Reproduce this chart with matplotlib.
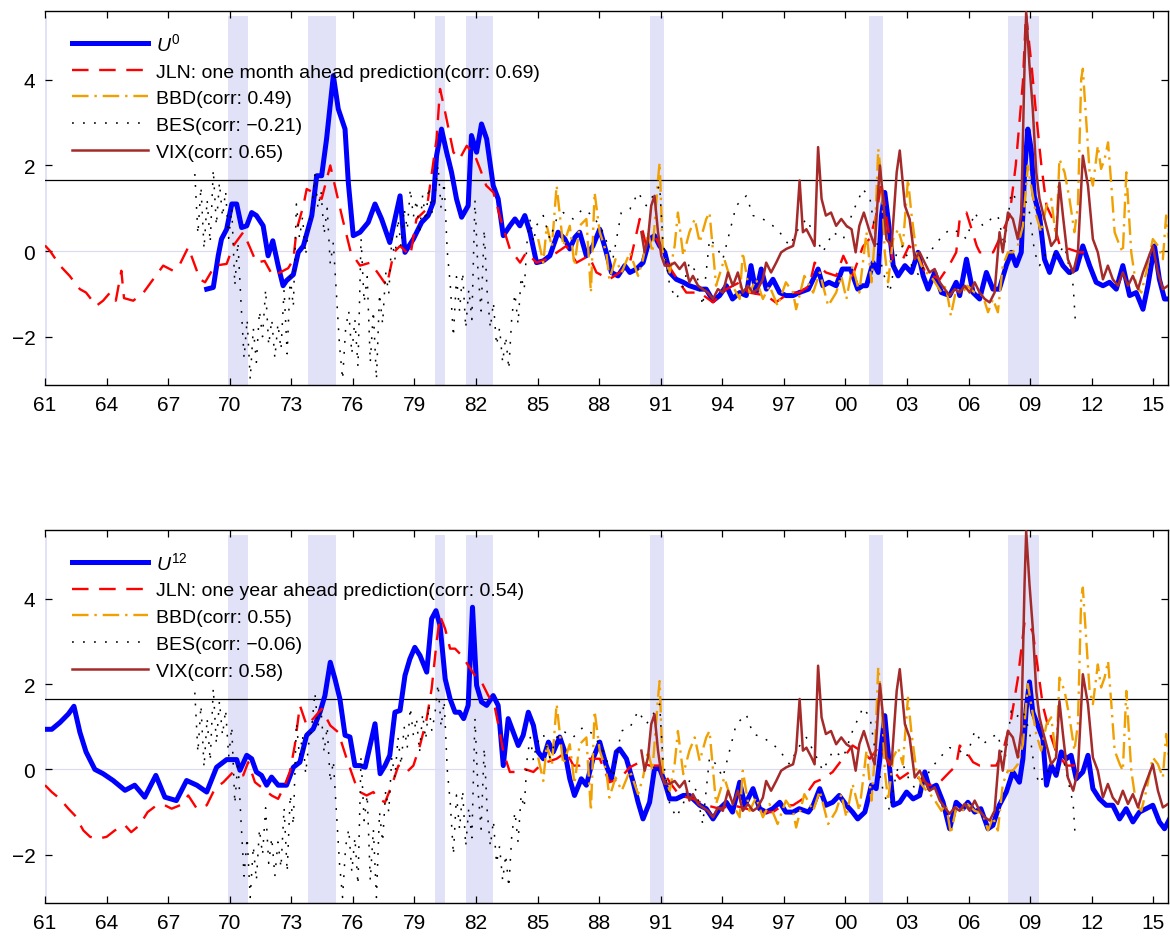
import matplotlib
matplotlib.use("Agg")
import matplotlib.pyplot as plt

plt.rcParams['font.family'] = ['Liberation Sans', 'DejaVu Sans']
plt.rcParams['mathtext.fontset'] = 'custom'
plt.rcParams['mathtext.it'] = 'Liberation Sans:italic'
plt.rcParams['mathtext.rm'] = 'Liberation Sans'

# NBER recessions
rec_start = [1960.25, 1969.92, 1973.83, 1980.0, 1981.5, 1990.5, 2001.17, 2007.92]
rec_end = [1961.12, 1970.87, 1975.17, 1980.5, 1982.83, 1991.17, 2001.83, 2009.42]

# U^0 (top)
u0_t = [1968.88, 1969.2, 1969.44, 1969.6, 1969.85, 1970.1, 1970.34, 1970.58, 1970.83, 1971.07,
        1971.3, 1971.63, 1971.87, 1972.1, 1972.36, 1972.6, 1972.77, 1973.1, 1973.34, 1973.59,
        1974.0, 1974.24, 1974.48, 1974.72, 1975.05, 1975.29, 1975.62, 1975.78, 1976.02, 1976.35,
        1976.75, 1977.08, 1977.4, 1977.8, 1978.05, 1978.3, 1978.54, 1978.95, 1979.35, 1979.67,
        1979.92, 1980.08, 1980.32, 1980.57, 1980.81, 1981.05, 1981.3, 1981.62, 1981.78, 1982.03,
        1982.27, 1982.52, 1982.84, 1983.08, 1983.33, 1983.65, 1983.9, 1984.14, 1984.38, 1984.63,
        1984.95, 1985.28, 1985.6, 1986.0, 1986.33, 1986.57, 1986.82, 1987.05, 1987.38, 1987.7,
        1988.03, 1988.35, 1988.6, 1988.92, 1989.25, 1989.5, 1989.82, 1990.14, 1990.46, 1990.7,
        1990.95, 1991.2, 1991.44, 1991.76, 1992.1, 1992.4, 1992.9, 1993.22, 1993.55, 1993.87,
        1994.2, 1994.5, 1994.85, 1995.17, 1995.4, 1995.65, 1995.9, 1996.15, 1996.47, 1996.8,
        1997.1, 1997.45, 1997.75, 1998.2, 1998.43, 1998.67, 1998.9, 1999.2, 1999.55, 1999.85,
        2000.25, 2000.6, 2000.84, 2001.03, 2001.35, 2001.6, 2001.76, 2001.92, 2002.08, 2002.33,
        2002.57, 2002.9, 2003.22, 2003.54, 2003.79, 2004.03, 2004.35, 2004.68, 2005.08, 2005.4,
        2005.57, 2005.9, 2006.22, 2006.54, 2006.87, 2007.19, 2007.5, 2007.84, 2008.08, 2008.32,
        2008.57, 2008.73, 2008.89, 2009.05, 2009.2, 2009.46, 2009.7, 2009.95, 2010.27, 2010.6,
        2010.9, 2011.25, 2011.57, 2011.9, 2012.22, 2012.55, 2012.87, 2013.2, 2013.52, 2013.85,
        2014.17, 2014.5, 2014.74, 2015.06, 2015.3, 2015.55, 2015.8]
u0_v = [-0.89, -0.85, -0.11, 0.28, 0.51, 1.1, 1.1, 0.55, 0.59, 0.9,
        0.83, 0.59, -0.11, 0.24, -0.34, -0.81, -0.69, -0.55, -0.03, 0.12,
        0.83, 1.76, 1.76, 2.62, 4.1, 3.32, 2.85, 1.6, 0.36, 0.44,
        0.67, 1.1, 0.75, 0.2, 0.75, 1.29, -0.03, 0.28, 0.67, 0.83,
        1.14, 2.23, 2.85, 2.31, 1.84, 1.22, 0.79, 1.06, 2.7, 2.31,
        2.97, 2.62, 1.53, 1.22, 0.36, 0.59, 0.75, 0.59, 0.83, 0.44,
        -0.27, -0.23, -0.11, 0.44, 0.28, 0.05, 0.32, 0.44, -0.11, 0.12,
        0.51, -0.03, -0.5, -0.58, -0.34, -0.5, -0.42, -0.27, 0.28, 0.36,
        0.12, -0.03, -0.5, -0.66, -0.73, -0.81, -0.89, -0.89, -1.16, -1.04,
        -0.81, -1.12, -0.97, -1.04, -0.34, -0.97, -0.42, -0.89, -0.66, -0.97,
        -1.04, -1.04, -0.97, -0.89, -0.66, -0.42, -0.81, -0.73, -0.81, -0.42,
        -0.42, -0.89, -0.81, -0.81, -0.27, -0.5, 0.83, 1.37, 0.75, -0.34,
        -0.58, -0.34, -0.5, -0.03, -0.58, -0.89, -0.5, -0.97, -1.04, -0.73,
        -1.04, -0.19, -0.97, -1.12, -0.5, -0.89, -0.89, -0.34, -0.03, -0.34,
        -0.03, 1.84, 2.85, 2.39, 1.29, 0.83, -0.19, -0.5, -0.03, -0.34,
        -0.5, -0.42, 0.12, -0.34, -0.73, -0.81, -0.73, -0.89, -0.34, -1.04,
        -0.97, -1.36, -0.81, 0.12, -0.66, -1.12, -1.12]

# JLN one month ahead (top)
jln1_t = [1961.0, 1961.25, 1961.73, 1962.2, 1962.7, 1963.0, 1963.5, 1963.83, 1964.17, 1964.45,
          1964.72, 1964.85, 1965.3, 1965.8, 1966.27, 1966.76, 1967.24, 1967.58, 1967.98, 1968.55,
          1968.8, 1969.28, 1969.85, 1970.17, 1970.66, 1970.98, 1971.3, 1971.7, 1972.1, 1972.45,
          1972.85, 1973.1, 1973.26, 1973.59, 1973.75, 1974.07, 1974.48, 1974.9, 1975.2, 1975.5,
          1975.9, 1976.35, 1976.85, 1977.2, 1977.65, 1978.0, 1978.3, 1978.8, 1979.1, 1979.6,
          1979.9, 1980.08, 1980.25, 1980.5, 1980.9, 1981.2, 1981.55, 1981.95, 1982.2, 1982.5,
          1982.85, 1983.2, 1983.65, 1984.15, 1984.45, 1984.95, 1985.45, 1985.95, 1986.4, 1986.9,
          1987.5, 1987.87, 1988.5, 1989.0, 1989.5, 1989.98, 1990.3, 1990.8, 1991.3, 1991.9,
          1992.25, 1992.9, 1993.55, 1994.2, 1994.85, 1995.3, 1996.15, 1996.6, 1997.3, 1997.75,
          1998.25, 1998.5, 1999.05, 1999.55, 1999.9, 2000.35, 2000.85, 2001.2, 2001.5, 2001.75,
          2002.3, 2002.8, 2003.1, 2003.46, 2003.9, 2004.6, 2005.05, 2005.4, 2005.57, 2005.9,
          2006.4, 2006.55, 2007.2, 2007.5, 2008.0, 2008.3, 2008.65, 2008.8, 2009.07, 2009.3,
          2009.55, 2009.8, 2010.1, 2010.45, 2010.9, 2011.4, 2011.9]
jln1_v = [0.13, 0.0, -0.34, -0.58, -0.89, -0.97, -1.28, -1.16, -0.97, -1.16,
          -0.46, -1.1, -1.16, -0.97, -0.66, -0.34, -0.46, -0.3, 0.09, -0.66,
          -0.73, -0.34, -0.3, 0.12, 0.44, 0.09, -0.27, -0.23, -0.58, -0.5,
          -0.4, -0.2, 0.5, 1.06, 1.45, 1.37, 1.22, 2.0, 1.37, 0.75,
          -0.03, -0.34, -0.27, -0.5, -0.81, -0.03, 0.12, -0.11, 0.75, 0.98,
          2.0, 2.62, 3.79, 3.24, 2.31, 2.15, 2.46, 2.23, 1.92, 1.53,
          1.37, 0.75, 0.05, -0.27, -0.03, -0.27, -0.19, -0.03, 0.12, -0.27,
          -0.11, -0.5, -0.66, -0.5, -0.27, 0.75, 0.12, 0.28, -0.27, -0.73,
          -0.97, -0.97, -1.2, -0.89, -0.73, -0.97, -1.04, -1.2, -0.97, -0.97,
          -0.81, -0.27, -0.5, -0.58, -0.11, -0.58, 0.1, 0.3, 0.83, 1.6,
          -0.19, -0.19, 0.12, -0.03, -0.5, -0.66, -0.34, -0.03, 0.75, 0.9,
          0.12, -0.03, -0.03, 0.28, 0.83, 2.0, 3.95, 5.55, 4.34, 3.17,
          2.0, 1.06, 0.75, 0.12, 0.05, -0.03, -0.03]

# U^12 (bottom)
u12_t = [1961.0, 1961.33, 1961.73, 1962.14, 1962.41, 1962.7, 1963.0, 1963.43, 1963.83, 1964.32,
         1964.9, 1965.37, 1965.86, 1966.4, 1966.84, 1967.4, 1967.9, 1968.4, 1968.88, 1969.36,
         1969.85, 1970.34, 1970.5, 1970.83, 1971.07, 1971.3, 1971.55, 1971.8, 1972.04, 1972.36,
         1972.77, 1973.1, 1973.42, 1973.75, 1974.07, 1974.4, 1974.64, 1974.9, 1975.13, 1975.37,
         1975.62, 1975.86, 1976.1, 1976.35, 1976.6, 1976.84, 1977.08, 1977.33, 1977.57, 1977.8,
         1978.05, 1978.3, 1978.54, 1978.78, 1979.02, 1979.27, 1979.6, 1979.84, 1980.05, 1980.25,
         1980.5, 1980.74, 1980.98, 1981.2, 1981.4, 1981.62, 1981.83, 1982.03, 1982.27, 1982.52,
         1982.84, 1983.08, 1983.33, 1983.57, 1983.82, 1984.06, 1984.3, 1984.55, 1984.8, 1985.03,
         1985.28, 1985.53, 1985.77, 1986.08, 1986.33, 1986.57, 1986.8, 1987.13, 1987.38, 1987.7,
         1988.03, 1988.35, 1988.6, 1988.84, 1989.0, 1989.33, 1989.66, 1989.9, 1990.14, 1990.46,
         1990.7, 1990.95, 1991.2, 1991.44, 1991.76, 1992.1, 1992.4, 1992.9, 1993.22, 1993.55,
         1993.87, 1994.2, 1994.5, 1994.85, 1995.1, 1995.5, 1995.82, 1996.14, 1996.47, 1996.8,
         1997.1, 1997.45, 1997.75, 1998.2, 1998.43, 1998.75, 1999.05, 1999.38, 1999.7, 2000.05,
         2000.35, 2000.6, 2000.95, 2001.27, 2001.5, 2001.68, 2001.92, 2002.08, 2002.33, 2002.65,
         2002.98, 2003.3, 2003.62, 2003.87, 2004.1, 2004.43, 2004.76, 2005.08, 2005.4, 2005.73,
         2005.97, 2006.3, 2006.6, 2006.95, 2007.19, 2007.5, 2007.84, 2008.16, 2008.48, 2008.65,
         2008.81, 2008.97, 2009.13, 2009.38, 2009.62, 2009.8, 2010.03, 2010.27, 2010.52, 2010.76,
         2011.0, 2011.25, 2011.57, 2011.82, 2012.06, 2012.38, 2012.71, 2013.03, 2013.36, 2013.68,
         2014.01, 2014.33, 2014.66, 2014.98, 2015.3, 2015.55, 2015.8]
u12_v = [0.94, 0.94, 1.1, 1.3, 1.48, 0.87, 0.41, 0.0, -0.1, -0.26,
         -0.49, -0.37, -0.65, -0.14, -0.65, -0.73, -0.26, -0.37, -0.53, 0.05,
         0.23, 0.23, -0.02, 0.33, 0.25, -0.06, -0.14, -0.37, -0.18, -0.37,
         -0.37, 0.05, 0.17, 0.8, 0.95, 1.34, 1.73, 2.51, 2.12, 1.65,
         0.8, 0.76, 0.09, 0.09, 0.05, 0.56, 1.07, -0.1, 0.09, 0.33,
         1.34, 1.38, 2.2, 2.59, 2.86, 2.67, 2.28, 3.53, 3.72, 3.37,
         2.12, 1.65, 1.34, 1.34, 1.19, 1.5, 3.8, 1.97, 1.58, 1.5,
         1.73, 1.5, 0.09, 1.19, 0.87, 0.56, 0.8, 1.34, 1.03, 0.41,
         0.25, 0.64, 0.41, 0.76, 0.41, -0.22, -0.61, -0.22, -0.37, 0.25,
         0.64, 0.09, -0.22, 0.41, 0.48, 0.25, -0.3, -0.77, -1.16, -0.77,
         0.02, 0.02, -0.3, -0.69, -0.69, -0.61, -0.61, -0.84, -0.92, -1.16,
         -0.92, -0.77, -1.0, -0.3, -0.84, -0.45, -0.92, -1.0, -0.92, -0.77,
         -1.0, -1.0, -0.92, -1.0, -0.84, -0.45, -0.84, -0.77, -0.61, -0.84,
         -1.0, -1.16, -1.0, -0.37, -0.45, 0.25, 1.26, 0.41, -0.84, -0.77,
         -0.53, -0.69, -0.61, -0.06, -0.45, -0.37, -0.77, -1.39, -0.77, -0.92,
         -0.77, -1.0, -0.92, -1.39, -1.31, -0.84, -0.53, -0.06, -0.3, 0.25,
         1.42, 2.05, 1.34, 1.03, 0.72, -0.37, 0.09, -0.14, 0.41, 0.25,
         0.33, -0.22, -0.06, 0.33, -0.45, -0.69, -0.84, -0.84, -1.16, -0.92,
         -1.23, -1.0, -0.92, -0.84, -1.23, -1.39, -1.16]

# JLN one year ahead (bottom)
jln12_t = [1961.0, 1961.33, 1961.73, 1962.14, 1962.46, 1962.87, 1963.2, 1963.6, 1964.0, 1964.4,
           1964.9, 1965.2, 1965.6, 1966.0, 1966.44, 1966.84, 1967.17, 1967.58, 1967.98, 1968.4,
           1968.88, 1969.28, 1969.69, 1970.17, 1970.66, 1970.9, 1971.23, 1971.63, 1972.04, 1972.36,
           1972.68, 1972.93, 1973.17, 1973.42, 1973.75, 1974.07, 1974.48, 1974.9, 1975.29, 1975.7,
           1976.1, 1976.35, 1976.67, 1977.0, 1977.24, 1977.57, 1977.9, 1978.22, 1978.63, 1978.95,
           1979.27, 1979.6, 1979.84, 1980.08, 1980.25, 1980.5, 1980.74, 1980.98, 1981.3, 1981.62,
           1981.95, 1982.27, 1982.6, 1982.9, 1983.16, 1983.33, 1983.65, 1983.98, 1984.3, 1984.8,
           1985.12, 1985.45, 1985.93, 1986.4, 1986.75, 1987.05, 1987.54, 1988.03, 1988.5, 1989.0,
           1989.5, 1989.98, 1990.46, 1990.95, 1991.44, 1991.92, 1992.57, 1993.22, 1993.87, 1994.52,
           1995.17, 1995.82, 1996.47, 1996.95, 1997.45, 1997.93, 1998.5, 1998.9, 1999.38, 1999.87,
           2000.35, 2000.84, 2001.19, 2001.68, 2002.16, 2002.65, 2003.13, 2003.62, 2004.1, 2004.6,
           2005.08, 2005.4, 2005.57, 2005.9, 2006.22, 2006.54, 2007.03, 2007.35, 2007.67, 2008.08,
           2008.4, 2008.73, 2008.89, 2009.13, 2009.38, 2009.62, 2009.95, 2010.27, 2010.76, 2011.25,
           2011.73]
jln12_v = [-0.37, -0.53, -0.69, -0.92, -1.08, -1.43, -1.58, -1.62, -1.58, -1.43,
           -1.31, -1.47, -1.31, -1.0, -0.84, -0.84, -0.92, -0.84, -0.61, -0.92,
           -0.84, -0.45, -0.3, -0.06, -0.14, 0.17, -0.3, -0.45, -0.61, -0.69,
           -0.37, -0.06, 0.56, 1.5, 1.03, 1.19, 1.42, 1.03, 0.87, 0.25,
           -0.3, -0.53, -0.61, -0.53, -0.69, -0.77, -0.37, 0.09, -0.06, 0.09,
           0.56, 1.19, 1.89, 2.98, 3.6, 3.29, 2.83, 2.83, 2.67, 2.44,
           2.2, 2.05, 1.73, 1.5, 0.87, 0.41, -0.06, -0.06, 0.02, -0.06,
           0.09, 0.17, 0.25, 0.41, 0.09, 0.09, 0.25, 0.25, -0.3, -0.22,
           0.05, 0.17, 0.09, 0.09, -0.3, -0.61, -0.69, -0.84, -0.92, -0.84,
           -0.92, -1.0, -1.0, -0.84, -0.84, -0.69, -0.3, -0.22, -0.06, 0.25,
           0.56, 0.41, 0.25, 0.56, 0.09, -0.22, -0.06, -0.22, -0.37, -0.3,
           -0.06, 0.09, 0.56, 0.41, 0.17, 0.09, 0.09, 0.09, 0.41, 1.19,
           2.12, 3.45, 3.45, 3.22, 2.36, 1.5, 0.87, 0.41, 0.09, 0.09,
           0.09]

# BBD (both panels)
bbd_t = [1985.03, 1985.28, 1985.45, 1985.7, 1985.93, 1986.25, 1986.57, 1986.8, 1987.05, 1987.38,
         1987.6, 1987.78, 1988.03, 1988.35, 1988.5, 1988.8, 1989.1, 1989.5, 1989.9, 1990.14,
         1990.38, 1990.6, 1990.87, 1990.95, 1991.1, 1991.44, 1991.68, 1991.84, 1992.1, 1992.4,
         1992.66, 1992.9, 1993.22, 1993.38, 1993.7, 1994.1, 1994.5, 1994.85, 1995.0, 1995.33,
         1995.65, 1995.98, 1996.3, 1996.7, 1997.1, 1997.45, 1997.6, 1998.0, 1998.43, 1998.75,
         1999.16, 1999.55, 1999.8, 2000.05, 2000.35, 2000.68, 2001.03, 2001.27, 2001.43, 2001.6,
         2001.76, 2001.92, 2002.08, 2002.33, 2002.57, 2002.8, 2003.05, 2003.21, 2003.46, 2003.7,
         2003.95, 2004.27, 2004.68, 2004.9, 2005.14, 2005.4, 2005.7, 2005.95, 2006.3, 2006.7,
         2006.95, 2007.19, 2007.43, 2007.67, 2007.92, 2008.16, 2008.4, 2008.65, 2008.89, 2009.05,
         2009.3, 2009.54, 2009.8, 2010.03, 2010.27, 2010.43, 2010.68, 2010.92, 2011.16, 2011.33,
         2011.49, 2011.57, 2011.73, 2011.9, 2012.06, 2012.3, 2012.46, 2012.63, 2012.8, 2012.96,
         2013.12, 2013.37, 2013.52, 2013.69, 2013.93, 2014.17, 2014.42, 2014.66, 2014.98, 2015.23,
         2015.47, 2015.63, 2015.75]
bbd_v = [0.28, -0.27, 0.59, 0.1, 1.53, 0.12, 0.59, -0.34, 0.59, 0.75,
         -0.97, 1.37, 0.44, -0.03, -0.66, -0.19, -0.5, -0.03, -0.58, -0.19,
         0.44, -0.03, 1.68, 2.07, -0.03, -0.5, 0.12, 0.9, -0.11, 0.44,
         0.75, 0.2, 0.75, 0.9, -0.81, -0.19, -0.81, -1.12, -0.03, -0.97,
         -0.66, -1.12, -0.81, -1.28, -0.73, -0.97, -1.36, -0.58, -0.97, -0.5,
         -1.28, -0.97, -0.58, -1.12, -0.34, -0.97, 0.44, -0.73, 0.28, 2.39,
         1.68, -0.03, -0.73, 0.28, 0.51, 0.12, 1.68, 0.9, -0.03, -0.34,
         -0.5, -0.66, -0.97, -0.81, -1.51, -0.89, -0.97, -0.81, -0.97, -1.04,
         -1.43, -1.12, -1.43, -0.34, -0.03, -0.03, 0.12, 0.59, 2.0, 1.53,
         0.83, 0.44, 1.06, 1.22, 0.28, 2.15, 1.84, 1.22, 0.44, 1.06,
         4.02, 4.26, 3.09, 1.84, 1.53, 2.46, 1.92, 2.15, 2.54, 1.53,
         0.44, 0.12, -0.03, 1.84, -0.03, -0.81, -0.97, -0.5, 0.28, 0.12,
         -0.19, 0.83, 0.3]

# BES (both panels)
bes_t = [1968.3, 1968.45, 1968.6, 1968.75, 1968.9, 1969.05, 1969.2, 1969.35, 1969.5, 1969.65,
         1969.8, 1969.95, 1970.1, 1970.25, 1970.4, 1970.55, 1970.7, 1970.85, 1971.0, 1971.15,
         1971.3, 1971.45, 1971.6, 1971.75, 1971.9, 1972.05, 1972.2, 1972.35, 1972.5, 1972.65,
         1972.8, 1972.95, 1973.1, 1973.25, 1973.4, 1973.55, 1973.7, 1973.85, 1974.0, 1974.15,
         1974.3, 1974.45, 1974.6, 1974.75, 1974.9, 1975.05, 1975.2, 1975.35, 1975.5, 1975.65,
         1975.8, 1975.95, 1976.1, 1976.25, 1976.4, 1976.55, 1976.7, 1976.85, 1977.0, 1977.15,
         1977.3, 1977.45, 1977.6, 1977.75, 1977.9, 1978.05, 1978.2, 1978.35, 1978.5, 1978.65,
         1978.8, 1978.95, 1979.1, 1979.25, 1979.4, 1979.55, 1979.7, 1979.85, 1980.0, 1980.15,
         1980.3, 1980.45, 1980.6, 1980.75, 1980.9, 1981.05, 1981.2, 1981.35, 1981.5, 1981.65,
         1981.8, 1981.95, 1982.1, 1982.25, 1982.4, 1982.55, 1982.7, 1982.85, 1983.0, 1983.15,
         1983.3, 1983.45, 1983.6, 1983.75, 1983.9, 1984.05, 1984.2, 1984.35, 1984.5, 1984.65,
         1984.8, 1984.95, 1985.28, 1985.6, 1985.93, 1986.25, 1986.73, 1987.2, 1987.7, 1988.2,
         1988.67, 1989.08, 1989.5, 1989.9, 1990.3, 1990.63, 1990.95, 1991.1, 1991.44, 1991.76,
         1992.1, 1992.4, 1992.74, 1993.05, 1993.38, 1993.7, 1994.03, 1994.36, 1994.68, 1995.17,
         1995.5, 1995.98, 1996.47, 1996.8, 1997.28, 1997.7, 1998.1, 1998.6, 1998.9, 1999.4,
         1999.9, 2000.35, 2000.86, 2001.2, 2001.5, 2001.84, 2002.16, 2002.5, 2002.8, 2003.13,
         2003.6, 2004.1, 2004.6, 2005.08, 2005.57, 2005.9, 2006.3, 2006.7, 2007.1, 2007.43,
         2007.75, 2008.08, 2008.32, 2008.65, 2008.97, 2009.22, 2009.46, 2009.8, 2010.27, 2010.68,
         2011.1, 2011.2]
bes_v = [1.8, 0.4, 1.5, 0.05, 1.2, 0.2, 1.9, 0.6, 1.6, 0.8,
         1.4, 0.3, 1.0, -0.8, 0.2, -1.2, -2.5, -1.6, -3.0, -1.8,
         -2.6, -1.4, -2.0, -0.9, -2.2, -1.6, -2.5, -1.7, -2.3, -0.9,
         -2.4, -0.6, -1.3, 1.1, 0.3, 0.8, -0.1, 0.6, 1.0, 1.8,
         1.0, 1.4, 0.4, 1.0, -0.3, 0.2, -1.0, -2.2, -3.0, -1.8,
         -1.4, -2.4, -1.6, -2.7, 0.3, -1.2, -0.6, -2.6, -1.4, -3.0,
         -1.0, -1.7, -0.5, -1.0, 0.3, -0.2, 0.75, 0.1, 1.0, 0.5,
         1.45, 0.8, 1.2, 0.4, 1.3, 0.7, 1.5, 0.9, 1.3, 2.0,
         1.0, 1.6, 0.0, -0.8, -2.0, -0.6, -1.4, -0.5, -1.8, -0.9,
         -1.6, 1.2, -0.5, -1.4, 0.5, -1.0, -1.8, -1.2, -2.2, -1.8,
         -2.6, -2.0, -2.76, -1.5, -1.0, -1.7, -0.6, -0.9, 0.3, 0.75,
         0.2, 0.6, 0.83, 0.28, 0.75, 0.9, 0.75, 0.98, 0.83, 0.44,
         -0.19, 0.9, 0.98, 1.37, 1.06, 1.29, 1.53, 0.28, -0.81, -1.12,
         -0.81, -0.27, -0.5, -1.28, 0.28, 0.12, -0.19, 0.44, 1.06, 1.29,
         0.83, 0.75, 0.59, 0.44, 0.12, 0.51, 0.75, 0.28, -0.03, 0.44,
         0.28, 0.9, 1.45, 1.22, 0.28, -0.5, -0.97, -0.03, 0.12, -0.27,
         -0.58, -0.03, 0.28, 0.51, 0.44, 0.28, 0.9, 0.59, 0.75, 0.83,
         0.12, 1.37, 1.22, 1.37, 0.9, -0.03, -0.34, -0.03, -0.11, 0.12,
         -0.81, -1.6]

# VIX (both panels)
vix_t = [1990.06, 1990.22, 1990.38, 1990.54, 1990.7, 1990.87, 1991.03, 1991.2, 1991.44, 1991.68,
         1991.92, 1992.17, 1992.4, 1992.57, 1992.82, 1993.05, 1993.3, 1993.55, 1993.79, 1994.03,
         1994.28, 1994.52, 1994.76, 1995.0, 1995.25, 1995.5, 1995.73, 1995.98, 1996.14, 1996.38,
         1996.63, 1996.87, 1997.12, 1997.45, 1997.6, 1997.77, 1997.93, 1998.1, 1998.35, 1998.5,
         1998.67, 1998.84, 1999.05, 1999.3, 1999.55, 1999.8, 2000.05, 2000.3, 2000.5, 2000.68,
         2000.9, 2001.19, 2001.43, 2001.68, 2001.84, 2002.0, 2002.25, 2002.5, 2002.65, 2002.9,
         2003.13, 2003.38, 2003.62, 2003.86, 2004.1, 2004.35, 2004.6, 2004.84, 2005.08, 2005.33,
         2005.57, 2005.81, 2006.06, 2006.3, 2006.54, 2006.79, 2007.03, 2007.27, 2007.51, 2007.67,
         2007.92, 2008.16, 2008.4, 2008.57, 2008.73, 2008.81, 2008.97, 2009.13, 2009.3, 2009.46,
         2009.62, 2009.87, 2010.03, 2010.27, 2010.43, 2010.6, 2010.84, 2011.1, 2011.33, 2011.57,
         2011.82, 2012.06, 2012.3, 2012.55, 2012.79, 2013.03, 2013.28, 2013.52, 2013.77, 2014.01,
         2014.26, 2014.5, 2014.74, 2014.98, 2015.23, 2015.47, 2015.72]
vix_v = [0.44, -0.03, 0.28, 1.06, 1.29, 0.44, -0.11, -0.34, -0.34, -0.27,
         -0.42, -0.27, -0.73, -0.58, -0.81, -0.89, -0.97, -1.12, -0.89, -0.97,
         -0.5, -0.81, -0.5, -0.97, -0.81, -0.97, -0.89, -0.66, -0.27, -0.5,
         -0.27, -0.03, 0.05, 0.12, 0.44, 1.65, 0.44, 0.51, 0.28, 0.12,
         2.43, 1.22, 0.83, 0.9, 0.59, 0.75, 0.59, 0.51, -0.03, 0.59,
         0.9, 0.44, 0.12, 2.0, 1.22, 0.28, 0.12, 1.84, 2.35, 1.06,
         0.75, -0.19, -0.03, -0.27, -0.5, -0.42, -0.73, -0.89, -1.04, -0.89,
         -0.97, -0.81, -0.97, -0.73, -0.97, -1.12, -1.2, -0.97, 0.44, -0.03,
         0.9, 0.75, 0.28, 0.9, 4.34, 5.58, 4.34, 3.32, 1.84, 1.22,
         0.9, 0.44, 0.12, 0.28, 1.6, 0.83, -0.19, -0.5, -0.03, 2.23,
         1.53, 0.28, -0.03, -0.66, -0.34, -0.66, -0.81, -0.5, -0.81, -0.58,
         -0.89, -0.5, -0.19, 0.12, -0.5, -0.89, -0.81]

year_ticks = list(range(1961, 2016, 3))
y_ticks = [-2, 0, 2, 4]


def panel(ax, u_t, u_v, u_name, jln_t, jln_v, jln_name, corrs):
	ylo, yhi = -3.13, 5.61
	for s, e in zip(rec_start, rec_end):
		ax.fill_between([s, e], ylo, 5.5, color='#e1e1f7', lw=0, zorder=0)
	ax.axhline(0, color='#dadaf0', lw=0.8, zorder=1)
	ax.axhline(1.65, color='black', lw=0.9, zorder=1)

	ax.plot(u_t, u_v, color='#0000ff', lw=3.6, label=u_name, zorder=2)
	ax.plot(jln_t, jln_v, color='#ff0000', lw=1.7, dashes=(7, 4.5), label=jln_name, zorder=3)
	ax.plot(bbd_t, bbd_v, color='#f0a000', lw=1.7, dashes=(7, 2.5, 1, 2.5), label='BBD(corr: %s)' % corrs[0], zorder=4)
	ax.plot(bes_t, bes_v, color='black', lw=1.1, dashes=(1.2, 6), label='BES(corr: %s)' % corrs[1], zorder=5)
	ax.plot(vix_t, vix_v, color='#a52a2a', lw=1.8, label='VIX(corr: %s)' % corrs[2], zorder=6)

	ax.set_xlim(1961, 2015.72)
	ax.set_ylim(ylo, yhi)
	ax.set_xticks(year_ticks)
	ax.set_xticklabels(['%02d' % (y % 100) for y in year_ticks])
	ax.set_yticks(y_ticks)
	ax.tick_params(direction='in', top=True, right=True, length=5, width=0.9, labelsize=15, pad=7)
	for sp in ax.spines.values():
		sp.set_linewidth(1.0)
	ax.spines['left'].set_visible(False)

	ax.legend(loc='upper left', bbox_to_anchor=(0.017, 0.965), frameon=False, fontsize=14,
		handlelength=3.9, handletextpad=0.42, labelspacing=0.47, borderaxespad=0.0)


fig = plt.figure(figsize=(11.7, 9.37), dpi=100)
ax1 = fig.add_axes([45/1170., 1-386/937., 1123/1170., 374/937.])
ax2 = fig.add_axes([45/1170., 1-904/937., 1123/1170., 373/937.])

panel(ax1, u0_t, u0_v, r'$\mathit{U}^{\mathit{0}}$', jln1_t, jln1_v,
	'JLN: one month ahead prediction(corr: 0.69)', ['0.49', '\u22120.21', '0.65'])
panel(ax2, u12_t, u12_v, r'$\mathit{U}^{\mathit{12}}$', jln12_t, jln12_v,
	'JLN: one year ahead prediction(corr: 0.54)', ['0.55', '\u22120.06', '0.58'])

fig.savefig('out.png', dpi=100)
